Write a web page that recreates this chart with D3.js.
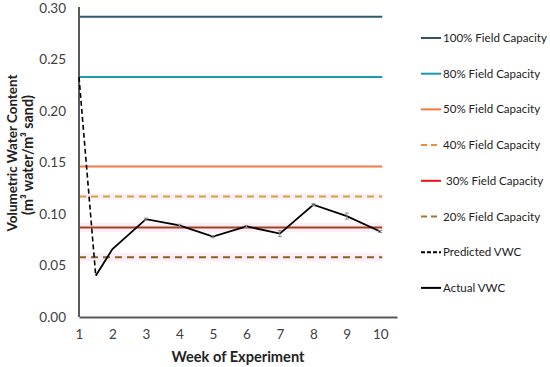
<!DOCTYPE html>
<html>
<head>
<meta charset="utf-8">
<script src="https://cdn.jsdelivr.net/npm/d3@7/dist/d3.min.js"></script>
<style>
  body { margin: 0; background: #fff; }
  svg { display: block; font-family: Lato, "Open Sans", sans-serif; }
</style>
</head>
<body>
<svg id="chart" width="550" height="367"></svg>
<script>
const width = 550;
const height = 367;

// field capacity levels
const capLabels = ["100% Field Capacity", "80% Field Capacity", "50% Field Capacity",
                   "40% Field Capacity", " 30% Field Capacity", "20% Field Capacity"];
const capValues = [0.2915, 0.233, 0.146, 0.117, 0.087, 0.058];
const capBands = [0, 0, 0, 0.003, 0.0045, 0.004];

// measured / predicted
const actualWeeks = [1.5, 2, 3, 4, 5, 6, 7, 8, 9, 10];
const actualVWC = [0.040, 0.066, 0.095, 0.089, 0.078, 0.088, 0.081, 0.109, 0.098, 0.083];
const actualErr = [0, 0, 0.001, 0.001, 0.001, 0.001, 0.003, 0.001, 0.003, 0.001];
const predictedWeeks = [1, 1.5];
const predictedVWC = [0.233, 0.040];

const weekTicks = [1, 2, 3, 4, 5, 6, 7, 8, 9, 10];
const vwcTicks = [0, 0.05, 0.10, 0.15, 0.20, 0.25, 0.30];

const capColors = ["#2f5a72", "#1d9bb3", "#f47a47", "#c9a836", "#a2421f", "#8a6222"];
const capLegendColors = ["#2f5468", "#1b9aaa", "#f4793b", "#f08a3c", "#e8121c", "#a0763a"];
const capDash = [null, null, null, "7,5", null, "7,5"];

const svg = d3.select("#chart");

const x = d3.scaleLinear().domain([1, 10.5]).range([79, 397]);
const y = d3.scaleLinear().domain([0, 0.3]).range([317, 8]);

// scale a text's font size so it spans the given width
function fit(sel, w) {
    const n = sel.node();
    const fs = parseFloat(sel.attr("font-size"));
    const len = n.getComputedTextLength();
    if (len > 0) sel.attr("font-size", fs * w / len);
    return parseFloat(sel.attr("font-size"));
}

// pink shading around some levels
svg.append("g").selectAll("rect")
    .data(capValues.map((v, i) => ({ v, b: capBands[i] })).filter(d => d.b > 0))
    .enter()
    .append("rect")
    .attr("x", x(1))
    .attr("width", x(10) - x(1) + 2)
    .attr("y", d => y(d.v + d.b))
    .attr("height", d => y(d.v - d.b) - y(d.v + d.b))
    .attr("fill", "#fdedf6");

// horizontal capacity lines
svg.append("g").selectAll("line")
    .data(capValues)
    .enter()
    .append("line")
    .attr("x1", x(1))
    .attr("x2", x(10) + 2)
    .attr("y1", d => y(d))
    .attr("y2", d => y(d))
    .attr("stroke", (d, i) => capColors[i])
    .attr("stroke-width", 2)
    .attr("stroke-dasharray", (d, i) => capDash[i]);

// axes
const xAxis = svg.append("g")
    .attr("transform", `translate(0,${y(0)})`)
    .call(d3.axisBottom(x).tickValues(weekTicks).tickSize(0).tickPadding(12).tickFormat(d3.format("d")));
const yAxis = svg.append("g")
    .attr("transform", `translate(${x(1)},0)`)
    .call(d3.axisLeft(y).tickValues(vwcTicks).tickSize(0).tickPadding(13).tickFormat(d3.format(".2f")));

[xAxis, yAxis].forEach(a => {
    a.select(".domain").attr("stroke", "#595959").attr("stroke-width", 2);
    a.selectAll("text").attr("fill", "#404040").attr("font-size", 13.5)
        .attr("font-family", "Lato, sans-serif");
});
yAxis.select(".domain").attr("d", `M0,${y(0)}V${y(0.3) - 1}`);

// predicted (dashed) line
const line = d3.line().x(d => x(d[0])).y(d => y(d[1]));
svg.append("path")
    .datum(predictedWeeks.map((w, i) => [w, predictedVWC[i]]))
    .attr("d", line)
    .attr("fill", "none")
    .attr("stroke", "#000")
    .attr("stroke-width", 1.6)
    .attr("stroke-dasharray", "5,3");

// actual line
svg.append("path")
    .datum(actualWeeks.map((w, i) => [w, actualVWC[i]]))
    .attr("d", line)
    .attr("fill", "none")
    .attr("stroke", "#000")
    .attr("stroke-width", 1.8);

// error bars
const eb = svg.append("g").attr("stroke", "#8c8c8c").attr("stroke-width", 1);
actualWeeks.forEach((w, i) => {
    if (!actualErr[i]) return;
    const cx = x(w), y1 = y(actualVWC[i] - actualErr[i]), y2 = y(actualVWC[i] + actualErr[i]);
    eb.append("line").attr("x1", cx).attr("x2", cx).attr("y1", y1).attr("y2", y2);
    eb.append("line").attr("x1", cx - 2).attr("x2", cx + 2).attr("y1", y1).attr("y2", y1);
    eb.append("line").attr("x1", cx - 2).attr("x2", cx + 2).attr("y1", y2).attr("y2", y2);
});

// axis titles
const xt = svg.append("text")
    .attr("x", 238)
    .attr("y", 362)
    .attr("text-anchor", "middle")
    .attr("font-size", 14)
    .attr("font-weight", "bold")
    .attr("fill", "#222")
    .text("Week of Experiment");
fit(xt, 133);

const yt1 = svg.append("text")
    .attr("transform", "translate(17,153) rotate(-90)")
    .attr("text-anchor", "middle")
    .attr("font-size", 14)
    .attr("font-weight", "bold")
    .attr("fill", "#222")
    .text("Volumetric Water Content");
fit(yt1, 157);

const yt2 = svg.append("text")
    .attr("transform", "translate(33,155) rotate(-90)")
    .attr("text-anchor", "middle")
    .attr("font-size", 14)
    .attr("font-weight", "bold")
    .attr("fill", "#222")
    .text("(m³ water/m³ sand)");
fit(yt2, 120);

// legend
const legendItems = capLabels.map((l, i) => ({ label: l, color: capLegendColors[i], dash: capDash[i] ? "6,4" : null }))
    .concat([
        { label: "Predicted VWC", color: "#000", dash: "4,2" },
        { label: "Actual VWC", color: "#000", dash: null }
    ]);

const legend = svg.append("g").selectAll("g")
    .data(legendItems)
    .enter()
    .append("g")
    .attr("transform", (d, i) => `translate(421,${38 + i * 35.7})`);

legend.append("line")
    .attr("x1", 0).attr("x2", 20)
    .attr("stroke", d => d.color)
    .attr("stroke-width", 2)
    .attr("stroke-dasharray", d => d.dash);

const legendText = legend.append("text")
    .attr("x", 22)
    .attr("dy", "0.35em")
    .attr("font-size", 12)
    .attr("fill", "#222")
    .attr("xml:space", "preserve")
    .style("white-space", "pre")
    .text(d => d.label);
const lfs = fit(d3.select(legendText.nodes()[0]), 104);
legendText.attr("font-size", lfs);
</script>
</body>
</html>
